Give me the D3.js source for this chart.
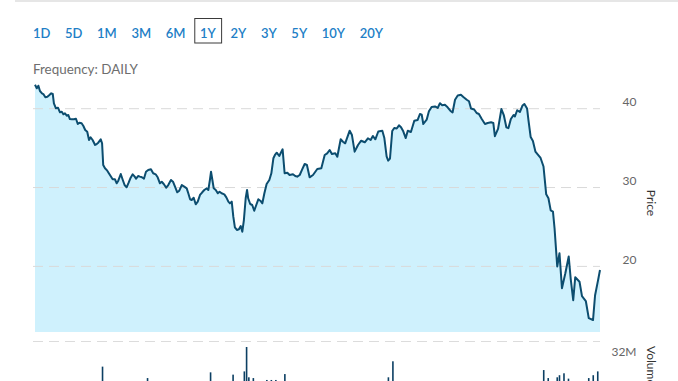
<!DOCTYPE html>
<html>
<head>
<meta charset="utf-8">
<script src="https://cdn.jsdelivr.net/npm/d3@7"></script>
<style>
  html, body { margin: 0; padding: 0; background: #ffffff; }
  svg { display: block; font-family: Lato, "Open Sans", sans-serif; }
</style>
</head>
<body>
<svg id="chart" width="678" height="381"></svg>
<script>
// ---------- data ----------
const rangeButtons = ["1D", "5D", "1M", "3M", "6M", "1Y", "2Y", "3Y", "5Y", "10Y", "20Y"];
const selectedRange = "1Y";
const frequencyLabel = "Frequency: DAILY";

// trading day (0 = first day of the 1Y window) and daily close price
const days = [0,0.8,1.5,2.2,3.1,3.7,4.6,5.5,6.4,7.2,7.9,8.4,9.3,10.2,11.1,11.9,12.6,13.3,14.1,14.8,15.5,16.4,17.3,18.2,19.0,19.7,20.7,21.5,22.3,23.2,24.0,24.7,25.6,26.7,27.4,28.1,29.2,29.8,30.3,31.1,32.1,33.3,34.5,35.5,36.3,37.0,38.1,39.0,39.8,40.7,41.6,42.5,43.4,44.3,44.9,45.8,46.6,47.5,48.4,49.3,50.3,51.5,52.5,53.6,54.5,55.5,56.3,57.2,58.3,59.2,60.4,61.3,62.2,63.2,64.1,65.2,66.3,67.4,68.1,68.9,69.6,70.5,71.4,72.3,73.3,74.3,75.2,76.3,77.0,77.7,78.2,78.8,79.4,80.3,81.2,82.0,82.9,84.1,85.0,85.9,86.6,87.4,88.1,88.8,89.7,90.6,91.4,92.1,92.8,93.6,94.2,94.7,95.6,96.5,97.4,98.3,99.2,100.1,101.0,101.9,102.9,104.1,105.0,105.9,106.6,107.4,108.5,110.0,110.9,112.1,113.1,114.6,115.6,116.5,117.6,118.6,119.8,120.8,122.0,123.5,125.4,127.2,128.7,129.8,130.9,131.9,133.4,134.3,135.8,136.8,137.8,139.8,140.8,142.0,143.5,144.9,146.5,147.9,149.1,150.1,151.2,152.5,154.3,155.2,156.2,156.9,157.7,158.7,159.6,160.7,161.7,162.6,163.6,164.7,165.6,167.0,168.5,170.0,171.0,171.8,172.5,174.0,175.0,176.2,177.7,178.9,179.9,180.9,182.1,183.3,184.5,185.5,186.6,187.8,189.2,190.3,191.8,192.8,193.7,195.1,196.2,197.2,198.4,199.9,201.1,202.6,203.6,204.3,205.7,207.2,208.3,209.4,210.3,211.4,212.6,213.2,214.2,215.4,216.6,217.4,218.6,219.2,220.2,221.2,222.3,223.4,224.6,225.9,227.1,228.1,229.1,230.1,230.8,232.0,233.0,234.1,235.6,237.1,238.0,239.1,240.0,241.9,243.0,244.7,246.0,247.9,248.8,250.1,251.0];
const prices = [43.04,42.59,42.92,42.24,41.95,41.86,41.45,41.52,41.74,41.95,41.86,40.68,40.05,40.13,39.54,39.62,39.29,39.42,39.11,39.20,38.69,38.66,38.66,38.73,38.06,38.22,38.15,37.81,37.30,37.08,36.03,36.37,36.03,35.40,35.52,35.69,36.12,35.61,32.86,32.44,32.14,31.59,31.05,31.05,30.54,30.87,31.72,30.96,30.32,30.03,30.62,31.25,31.68,31.38,31.12,31.46,31.38,31.30,31.12,32.01,32.23,32.31,31.81,31.68,31.30,30.54,30.74,30.45,29.98,30.32,30.96,30.74,30.11,29.40,29.60,30.32,30.11,29.90,29.27,28.51,28.42,28.71,27.88,28.21,29.06,29.40,29.69,29.90,29.69,30.96,32.01,30.96,29.90,29.69,29.27,29.47,29.27,29.14,28.76,28.21,28.00,28.21,26.30,24.96,24.62,24.71,25.12,24.40,25.88,28.64,29.69,28.64,27.91,27.79,27.06,27.79,28.51,28.33,28.00,29.27,30.45,30.96,31.81,33.71,34.13,34.42,34.00,34.85,31.81,31.88,31.59,31.68,31.46,31.38,31.59,32.23,32.99,32.86,31.30,31.59,32.35,32.44,34.13,34.34,34.76,34.25,34.34,33.91,36.12,35.81,35.61,37.21,36.66,34.55,35.40,35.94,35.74,36.25,36.03,36.54,36.12,37.11,37.20,36.28,33.96,33.41,33.68,37.17,37.55,37.49,37.89,37.64,37.13,36.28,37.21,37.05,38.48,38.57,39.33,39.24,38.06,38.60,39.67,40.22,40.28,40.09,40.70,40.44,40.49,40.18,39.75,39.52,41.14,41.67,41.76,41.48,41.13,40.94,40.03,39.90,39.45,39.33,38.73,38.06,38.19,38.28,38.19,36.51,37.43,39.96,39.14,37.64,37.53,38.69,39.20,39.01,39.80,39.58,40.41,40.60,40.03,38.57,36.41,35.90,34.57,34.17,33.75,32.67,29.14,28.65,27.11,26.96,24.87,19.99,21.67,17.24,19.14,21.26,18.40,15.71,18.62,18.05,16.22,15.61,13.43,13.20,16.31,18.20,19.54];

// volume (millions of shares) on the days whose bars reach into view
const volumeDays = [30,50,78,88,93,94,95,97,103,105,107,111,157,159,226,228,232,233,235,237,246,248,250];
const volumes    = [28.0,22.0,25.0,23.8,25.5,38.3,22.4,22.0,21.0,21.0,21.0,24.1,22.4,30.8,26.2,22.0,22.4,23.5,24.5,21.7,22.0,23.5,25.5];

const priceTicks = [20, 30, 40];
const volumeTicks = [32];
const priceAxisTitle = "Price";
const volumeAxisTitle = "Volume";

// ---------- layout ----------
const svg = d3.select("#chart");
const W = 678;
const plotLeft = 35, plotRight = 600, gridLeft = 33;
const plotBottom = 332;

const x = d3.scaleLinear().domain([0, 251]).range([plotLeft, plotRight]);
const y = d3.scaleLinear().domain([20, 40]).range([266.4, 108.7]);
const vy = d3.scaleLinear().domain([0, 32]).range([420, 359]);

// top separator band
svg.append("rect").attr("x", 15).attr("y", 0).attr("width", W - 15).attr("height", 2)
  .attr("fill", "#e6e6e6");

// range buttons
const btnG = svg.append("g").attr("font-size", 13).attr("font-weight", 600).attr("fill", "#217ec6");
let cx = 33;
const gap = 14.6;
rangeButtons.forEach(label => {
  const t = btnG.append("text").attr("x", cx).attr("y", 37.5).text(label);
  const w = t.node().getComputedTextLength();
  if (label === selectedRange) {
    svg.append("rect").attr("x", cx - 5.3).attr("y", 18.5).attr("width", w + 11)
      .attr("height", 24.5).attr("fill", "none").attr("stroke", "#3a3a3a").attr("stroke-width", 1);
  }
  cx += w + gap;
});

// frequency label
svg.append("text").attr("x", 33).attr("y", 73.5).attr("font-size", 13.4)
  .attr("fill", "#6e6e6e").text(frequencyLabel);

// area + line
const area = d3.area().x((d, i) => x(days[i])).y0(plotBottom).y1(d => y(d));
const line = d3.line().x((d, i) => x(days[i])).y(d => y(d));

svg.append("path").datum(prices).attr("d", area).attr("fill", "#cff1fd");

// gridlines
const gridG = svg.append("g");
priceTicks.forEach(t => {
  gridG.append("line").attr("x1", gridLeft).attr("x2", plotRight)
    .attr("y1", y(t)).attr("y2", y(t))
    .attr("stroke", "#d9d9d9").attr("stroke-width", 1).attr("stroke-dasharray", "10,6");
});
// pane separator (top of the volume pane)
gridG.append("line").attr("x1", gridLeft).attr("x2", plotRight)
  .attr("y1", 341.5).attr("y2", 341.5)
  .attr("stroke", "#dcdcdc").attr("stroke-width", 1).attr("stroke-dasharray", "10,6");

svg.append("path").datum(prices).attr("d", line).attr("fill", "none")
  .attr("stroke", "#0c4d6f").attr("stroke-width", 2).attr("stroke-linejoin", "round");

// price axis labels
const axG = svg.append("g").attr("font-size", 12).attr("fill", "#666666").attr("text-anchor", "end");
priceTicks.forEach(t => {
  axG.append("text").attr("x", 636.5).attr("y", y(t) - 2.6).text(t);
});
volumeTicks.forEach(t => {
  axG.append("text").attr("x", 636.5).attr("y", vy(t) - 2.6).text(t + "M");
});

// axis titles
svg.append("text").attr("transform", `translate(647,203) rotate(90)`)
  .attr("text-anchor", "middle").attr("font-size", 12).attr("fill", "#333333").text(priceAxisTitle);
svg.append("text").attr("transform", `translate(647,346) rotate(90)`)
  .attr("text-anchor", "start").attr("font-size", 12).attr("fill", "#333333").text(volumeAxisTitle);

// volume bars
svg.append("g").selectAll("rect").data(volumes).join("rect")
  .attr("x", (d, i) => x(volumeDays[i]) - 0.8)
  .attr("width", 1.6)
  .attr("y", d => vy(d))
  .attr("height", d => vy(0) - vy(d))
  .attr("fill", "#0c3f63");
</script>
</body>
</html>
